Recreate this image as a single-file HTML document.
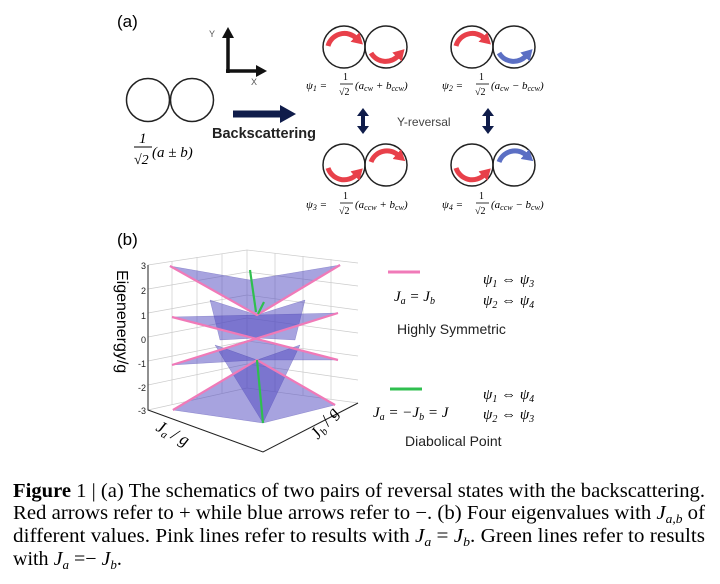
<!DOCTYPE html>
<html><head><meta charset="utf-8"><style>
body{margin:0;background:#fff;}
svg{display:block}
.s{font-family:"Liberation Sans",sans-serif}
.m{font-family:"Liberation Serif",serif;font-style:italic}
</style></head><body>
<svg width="720" height="584" viewBox="0 0 720 584" xmlns="http://www.w3.org/2000/svg">
<defs>
<marker id="rh" markerWidth="2.6" markerHeight="2.6" refX="0.3" refY="1.3" orient="auto" markerUnits="strokeWidth"><path d="M0,0 L2.2,1.3 L0,2.6z" fill="#e8404a"/></marker>
<marker id="bh" markerWidth="2.6" markerHeight="2.6" refX="0.3" refY="1.3" orient="auto" markerUnits="strokeWidth"><path d="M0,0 L2.2,1.3 L0,2.6z" fill="#5b6fc4"/></marker>
</defs>
<text x="117" y="27" class="s" font-size="17">(a)</text>
<text x="209" y="37" class="s" font-size="9" fill="#555">Y</text>
<path d="M228,73 V34" stroke="#111" stroke-width="3.5" fill="none"/>
<path d="M222,38 L228,27 L234,38z" fill="#111"/>
<path d="M226,71 H258" stroke="#111" stroke-width="3.5"/>
<path d="M256,65 L267,71 L256,77z" fill="#111"/>
<text x="251" y="85" class="s" font-size="9" fill="#555">X</text>
<circle cx="148" cy="100" r="21.5" fill="none" stroke="#222" stroke-width="1.5"/>
<circle cx="192" cy="100" r="21.5" fill="none" stroke="#222" stroke-width="1.5"/>
<text x="139" y="143" class="m" font-size="15" font-style="normal">1</text>
<line x1="134" y1="147" x2="152" y2="147" stroke="#000" stroke-width="1"/>
<text x="134" y="164" class="m" font-size="14" font-style="normal">√2</text>
<text x="152" y="157" class="m" font-size="15">(a ± b)</text>
<path d="M233,114 H282" stroke="#0f1c4a" stroke-width="7"/>
<path d="M280,105 L296,114 L280,123z" fill="#0f1c4a"/>
<text x="212" y="138" class="s" font-size="14.5" font-weight="bold" fill="#222">Backscattering</text>
<g fill="none" stroke="#222" stroke-width="1.5">
<circle cx="344" cy="47" r="21"/><circle cx="386" cy="47" r="21"/>
<circle cx="472" cy="47" r="21"/><circle cx="514" cy="47" r="21"/>
<circle cx="344" cy="165" r="21"/><circle cx="386" cy="165" r="21"/>
<circle cx="472" cy="165" r="21"/><circle cx="514" cy="165" r="21"/>
</g>
<g fill="none" stroke-width="5" stroke-linecap="butt">
<path d="M328,46 A17,17 0 0 1 356,38" stroke="#e8404a" marker-end="url(#rh)"/>
<path d="M371,53 A17,17 0 0 0 398,56" stroke="#e8404a" marker-end="url(#rh)"/>
<path d="M456,46 A17,17 0 0 1 484,38" stroke="#e8404a" marker-end="url(#rh)"/>
<path d="M499,53 A17,17 0 0 0 526,56" stroke="#5b6fc4" marker-end="url(#bh)"/>
<path d="M328,168 A17,17 0 0 0 356,175" stroke="#e8404a" marker-end="url(#rh)"/>
<path d="M371,162 A17,17 0 0 1 398,155" stroke="#e8404a" marker-end="url(#rh)"/>
<path d="M456,168 A17,17 0 0 0 484,175" stroke="#e8404a" marker-end="url(#rh)"/>
<path d="M499,162 A17,17 0 0 1 526,155" stroke="#5b6fc4" marker-end="url(#bh)"/>
</g>
<g class="m" font-size="11">
<text x="306" y="89">ψ<tspan font-size="8" dy="2">1</tspan><tspan dy="-2"> =</tspan></text>
<text x="343" y="80" font-style="normal" font-size="10">1</text><line x1="340" y1="84" x2="353" y2="84" stroke="#000" stroke-width="0.8"/><text x="339" y="95" font-style="normal" font-size="10">√2</text>
<text x="355" y="89">(a<tspan font-size="8" dy="2">cw</tspan><tspan dy="-2"> + b</tspan><tspan font-size="8" dy="2">ccw</tspan><tspan dy="-2">)</tspan></text>
<text x="442" y="89">ψ<tspan font-size="8" dy="2">2</tspan><tspan dy="-2"> =</tspan></text>
<text x="479" y="80" font-style="normal" font-size="10">1</text><line x1="476" y1="84" x2="489" y2="84" stroke="#000" stroke-width="0.8"/><text x="475" y="95" font-style="normal" font-size="10">√2</text>
<text x="491" y="89">(a<tspan font-size="8" dy="2">cw</tspan><tspan dy="-2"> − b</tspan><tspan font-size="8" dy="2">ccw</tspan><tspan dy="-2">)</tspan></text>
<text x="306" y="208">ψ<tspan font-size="8" dy="2">3</tspan><tspan dy="-2"> =</tspan></text>
<text x="343" y="199" font-style="normal" font-size="10">1</text><line x1="340" y1="203" x2="353" y2="203" stroke="#000" stroke-width="0.8"/><text x="339" y="214" font-style="normal" font-size="10">√2</text>
<text x="355" y="208">(a<tspan font-size="8" dy="2">ccw</tspan><tspan dy="-2"> + b</tspan><tspan font-size="8" dy="2">cw</tspan><tspan dy="-2">)</tspan></text>
<text x="442" y="208">ψ<tspan font-size="8" dy="2">4</tspan><tspan dy="-2"> =</tspan></text>
<text x="479" y="199" font-style="normal" font-size="10">1</text><line x1="476" y1="203" x2="489" y2="203" stroke="#000" stroke-width="0.8"/><text x="475" y="214" font-style="normal" font-size="10">√2</text>
<text x="491" y="208">(a<tspan font-size="8" dy="2">ccw</tspan><tspan dy="-2"> − b</tspan><tspan font-size="8" dy="2">cw</tspan><tspan dy="-2">)</tspan></text>
</g>
<g fill="#0f1c4a">
<path d="M363,108 L369,116 L365,116 L365,126 L369,126 L363,134 L357,126 L361,126 L361,116 L357,116z"/>
<path d="M488,108 L494,116 L490,116 L490,126 L494,126 L488,134 L482,126 L486,126 L486,116 L482,116z"/>
</g>
<text x="397" y="126" class="s" font-size="12" fill="#444">Y-reversal</text>
<text x="117" y="245" class="s" font-size="17">(b)</text>
<g stroke="#ccc" stroke-width="0.7" fill="none">
<path d="M148,265 L247,250 L358,263"/>
<path d="M247,250 V388"/>
<path d="M148,410 L247,388 L358,403"/>
<path d="M172,261 V405 M197,257 V399 M222,254 V393"/>
<path d="M275,253 V392 M303,256 V395 M331,259 V399"/>
<path d="M148,289 L247,272 L358,286 M148,313 L247,295 L358,310 M148,337 L247,318 L358,333 M148,361 L247,341 L358,356 M148,385 L247,364 L358,380"/>
</g>
<g fill="#5048c0" fill-opacity="0.5" stroke="#3a32a0" stroke-opacity="0.4" stroke-width="0.5">
<path d="M170,266 L250,280 L340,265 L257,315z"/>
<path d="M210,300 L257,315 L305,300 L295,340 L257,338 L220,340z"/>
<path d="M172,317 L257,315 L338,313 L255,338z"/>
<path d="M172,365 L255,338 L338,360 L257,360z"/>
<path d="M215,345 L257,360 L300,345 L263,423z"/>
<path d="M173,410 L257,360 L335,405 L263,423z"/>
</g>
<g stroke="#3a32b0" stroke-width="1.2" fill="none">
<path d="M170,266 L257,315 L340,265"/><path d="M173,410 L257,360 L335,405"/>
</g>
<g stroke="#f07ab8" stroke-width="2.2" fill="none">
<path d="M170,266 L257,315 L340,265"/>
<path d="M172,317 L338,360 M338,313 L172,365"/>
<path d="M173,410 L257,360 L335,405"/>
</g>
<g stroke="#2fbf4f" stroke-width="2.2" fill="none">
<path d="M250,270 L256,312"/><path d="M258,314 L264,302"/><path d="M257,360 L263,423"/>
</g>
<g stroke="#222" stroke-width="1" fill="none">
<path d="M148,265 V410 L263,452 L358,403"/>
</g>
<g class="s" font-size="9" fill="#222" text-anchor="end">
<text x="146" y="269">3</text><text x="146" y="294">2</text><text x="146" y="319">1</text><text x="146" y="343">0</text><text x="146" y="367">-1</text><text x="146" y="391">-2</text><text x="146" y="414">-3</text>
</g>
<text class="s" font-size="16" transform="translate(117,270) rotate(90)">Eigenenergy/g</text>
<text class="m" font-size="17" transform="translate(155,430) rotate(28)">J<tspan font-size="11" dy="3">a</tspan><tspan dy="-3"> / g</tspan></text>
<text class="m" font-size="17" transform="translate(318,440) rotate(-52)">J<tspan font-size="11" dy="3">b</tspan><tspan dy="-3"> / g</tspan></text>
<path d="M388,272 H420" stroke="#f07ab8" stroke-width="3"/>
<text x="394" y="301" class="m" font-size="15">J<tspan font-size="10" dy="3">a</tspan><tspan dy="-3"> = J</tspan><tspan font-size="10" dy="3">b</tspan></text>
<text x="483" y="284" class="m" font-size="15">ψ<tspan font-size="10" dy="3">1</tspan><tspan dy="-3"> ⇔ ψ</tspan><tspan font-size="10" dy="3">3</tspan></text>
<text x="483" y="305" class="m" font-size="15">ψ<tspan font-size="10" dy="3">2</tspan><tspan dy="-3"> ⇔ ψ</tspan><tspan font-size="10" dy="3">4</tspan></text>
<text x="397" y="334" class="s" font-size="14" fill="#222">Highly Symmetric</text>
<path d="M390,389 H422" stroke="#2fbf4f" stroke-width="3"/>
<text x="483" y="399" class="m" font-size="15">ψ<tspan font-size="10" dy="3">1</tspan><tspan dy="-3"> ⇔ ψ</tspan><tspan font-size="10" dy="3">4</tspan></text>
<text x="373" y="417" class="m" font-size="15">J<tspan font-size="10" dy="3">a</tspan><tspan dy="-3"> = −J</tspan><tspan font-size="10" dy="3">b</tspan><tspan dy="-3"> = J</tspan></text>
<text x="483" y="419" class="m" font-size="15">ψ<tspan font-size="10" dy="3">2</tspan><tspan dy="-3"> ⇔ ψ</tspan><tspan font-size="10" dy="3">3</tspan></text>
<text x="405" y="446" class="s" font-size="14" fill="#222">Diabolical Point</text>
<g font-family="Liberation Serif, serif" font-size="20">
<text x="13" y="497" textLength="692" lengthAdjust="spacingAndGlyphs"><tspan font-weight="bold">Figure</tspan> 1 | (a) The schematics of two pairs of reversal states with the backscattering.</text>
<text x="13" y="519" textLength="692" lengthAdjust="spacingAndGlyphs">Red arrows refer to + while blue arrows refer to −. (b) Four eigenvalues with <tspan font-style="italic">J</tspan><tspan font-style="italic" font-size="13" dy="4">a,b</tspan><tspan dy="-4"> of</tspan></text>
<text x="13" y="542" textLength="692" lengthAdjust="spacingAndGlyphs">different values. Pink lines refer to results with <tspan font-style="italic">J</tspan><tspan font-style="italic" font-size="13" dy="4">a</tspan><tspan dy="-4"> = </tspan><tspan font-style="italic">J</tspan><tspan font-style="italic" font-size="13" dy="4">b</tspan><tspan dy="-4">. Green lines refer to results</tspan></text>
<text x="13" y="565">with <tspan font-style="italic">J</tspan><tspan font-style="italic" font-size="13" dy="4">a</tspan><tspan dy="-4"> =− </tspan><tspan font-style="italic">J</tspan><tspan font-style="italic" font-size="13" dy="4">b</tspan><tspan dy="-4">.</tspan></text>
</g>
</svg>
</body></html>
